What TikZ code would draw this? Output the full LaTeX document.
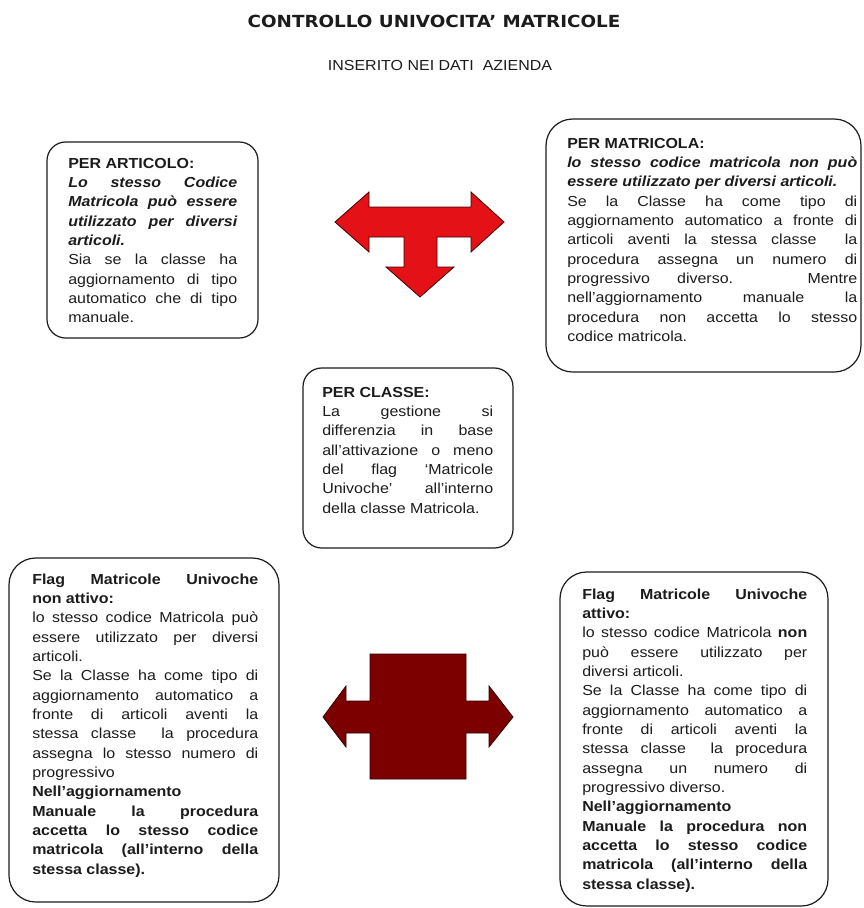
\documentclass[tikz,border=0pt]{standalone}
\usepackage{fontspec}
\setmainfont{Liberation Sans}[FakeStretch=1.10]
\newfontfamily\titlefont{DejaVu Sans}[FakeStretch=1.10]
\definecolor{tred}{RGB}{228,18,22}
\definecolor{dred}{RGB}{125,0,0}
\definecolor{ink}{RGB}{28,28,28}
\hyphenpenalty=10000
\exhyphenpenalty=10000
\tolerance=9999
\hbadness=10000
\begin{document}
\begin{tikzpicture}[x=0.75pt,y=-0.75pt,
  box/.style={draw=ink,line width=0.9pt},
  txt/.style={anchor=base west,inner sep=0pt,text=ink,align=justify,
    font=\fontsize{10.9pt}{14.5pt}\selectfont},
  arrowshape/.style={line width=0.6pt,line join=miter}]
\fill[white] (0,0) rectangle (864,908);
\useasboundingbox (0,0) rectangle (864,908);

% titles
\node[anchor=base,inner sep=0pt,text=ink,font=\titlefont\bfseries\fontsize{12.5pt}{15pt}\selectfont] (title) at (434,27) {CONTROLLO UNIVOCITA’ MATRICOLE};
\node[anchor=base,inner sep=0pt,text=ink,font=\fontsize{10.9pt}{13pt}\selectfont] (subtitle) at (440,70) {INSERITO NEI DATI\ \ AZIENDA};

% boxes
\draw[box,rounded corners=14pt] (47,142) rectangle (258,338);
\draw[box,rounded corners=20pt] (546,119) rectangle (861,372);
\draw[box,rounded corners=14pt] (303,368) rectangle (513,548);
\draw[box,rounded corners=20pt] (9,558) rectangle (279,902);
\draw[box,rounded corners=20pt] (560,572) rectangle (828,906);

% box texts
\node[txt,text width=126.75pt] (t1) at (68,168) {%
{\bfseries PER ARTICOLO:}\par
{\bfseries\itshape Lo stesso Codice\linebreak Matricola può essere\linebreak utilizzato per diversi\linebreak articoli.}\par
Sia se la classe ha\linebreak aggiornamento di tipo\linebreak automatico che di tipo\linebreak manuale.};

\node[txt,text width=217.5pt] (t2) at (567,148) {%
{\bfseries PER MATRICOLA:}\par
{\bfseries\itshape lo stesso codice matricola non può\linebreak essere utilizzato per diversi articoli.}\par
Se la Classe ha come tipo di\linebreak aggiornamento automatico a fronte di\linebreak articoli aventi la stessa classe\ \ la\linebreak procedura assegna un numero di\linebreak progressivo diverso. Mentre\linebreak nell’aggiornamento manuale la\linebreak procedura non accetta lo stesso\linebreak codice matricola.};

\node[txt,text width=128.25pt] (t3) at (322,397) {%
{\bfseries PER CLASSE:}\par
La gestione si\linebreak differenzia in base\linebreak all’attivazione o meno\linebreak del flag ‘Matricole\linebreak Univoche’ all’interno\linebreak della classe Matricola.};

\node[txt,text width=169.5pt] (t4) at (32,584) {%
{\bfseries Flag Matricole Univoche\linebreak non attivo:}\par
lo stesso codice Matricola può\linebreak essere utilizzato per diversi\linebreak articoli.\par
Se la Classe ha come tipo di\linebreak aggiornamento automatico a\linebreak fronte di articoli aventi la\linebreak stessa classe\ \ la procedura\linebreak assegna lo stesso numero di\linebreak progressivo\par
{\bfseries Nell’aggiornamento\par
Manuale la procedura\linebreak accetta lo stesso codice\linebreak matricola (all’interno della\linebreak stessa classe).}};

\node[txt,text width=168.75pt] (t5) at (582,599) {%
{\bfseries Flag Matricole Univoche\linebreak attivo:}\par
lo stesso codice Matricola {\bfseries non}\linebreak può essere utilizzato per\linebreak diversi articoli.\par
Se la Classe ha come tipo di\linebreak aggiornamento automatico a\linebreak fronte di articoli aventi la\linebreak stessa classe\ \ la procedura\linebreak assegna un numero di\linebreak progressivo diverso.\par
{\bfseries Nell’aggiornamento\par
Manuale la procedura non\linebreak accetta lo stesso codice\linebreak matricola (all’interno della\linebreak stessa classe).}};

% red T-shaped arrow
\filldraw[arrowshape,fill=tred,draw=black!75!red] (335,222) -- (369,192) -- (369,207) -- (471,207) -- (471,192) -- (504,222) -- (471,252) -- (471,237) -- (437,237) -- (437,267) -- (454,267) -- (420,297) -- (386,267) -- (404,267) -- (404,237) -- (369,237) -- (369,252) -- cycle;

% dark red left-right arrow callout
\filldraw[arrowshape,fill=dred,draw=black!60!dred] (370,654) -- (466,654) -- (466,701) -- (489,701) -- (489,686) -- (513,717) -- (489,747) -- (489,733) -- (466,733) -- (466,779) -- (370,779) -- (370,733) -- (346,733) -- (346,747) -- (323,717) -- (346,686) -- (346,701) -- (370,701) -- cycle;
\end{tikzpicture}
\end{document}
